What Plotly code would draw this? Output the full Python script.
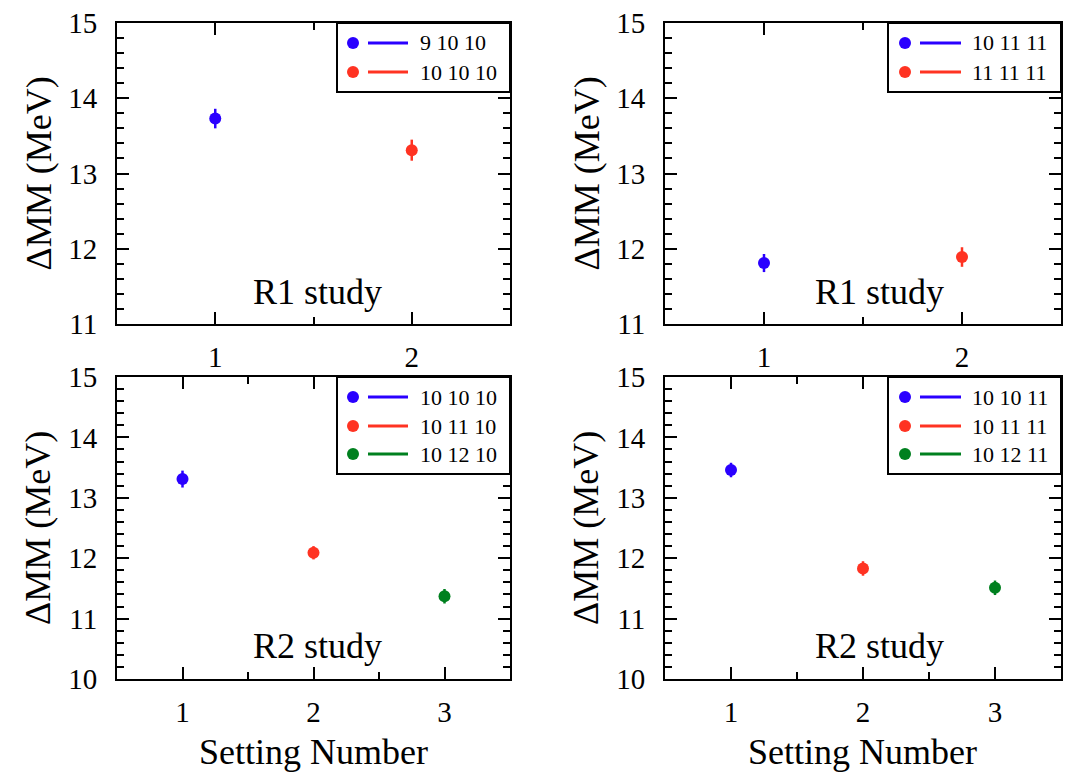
import plotly.graph_objects as go

W, H = 1076, 779
FONT = "Liberation Serif"

BLUE = "#2a00ff"
RED = "#ff3322"
GREEN = "#00801f"

# R1 study (top row)
r1a_setting = [1, 2]
r1a_labels = ["9 10 10", "10 10 10"]
r1a_mm = [13.73, 13.31]
r1a_err = [0.13, 0.14]

r1b_setting = [1, 2]
r1b_labels = ["10 11 11", "11 11 11"]
r1b_mm = [11.81, 11.89]
r1b_err = [0.12, 0.13]

# R2 study (bottom row)
r2a_setting = [1, 2, 3]
r2a_labels = ["10 10 10", "10 11 10", "10 12 10"]
r2a_mm = [13.31, 12.09, 11.37]
r2a_err = [0.14, 0.11, 0.12]

r2b_setting = [1, 2, 3]
r2b_labels = ["10 10 11", "10 11 11", "10 12 11"]
r2b_mm = [13.46, 11.83, 11.51]
r2b_err = [0.12, 0.12, 0.12]

colors = [BLUE, RED, GREEN]


def px(x):
    return x / W


def py(y):
    return 1 - y / H


# panel frames in pixels: (left, right, top, bottom)
panels = [
    dict(frame=(117, 510, 23, 324), xs=r1a_setting, ys=r1a_mm, es=r1a_err, labels=r1a_labels,
         xr=[0.5, 2.5], yr=[11, 15], study="R1 study", study_pos=(317, 292),
         leg=(337, 23, 92), leg_dx=(353, 368, 408, 418), rows=[43, 72]),
    dict(frame=(665, 1061, 23, 324), xs=r1b_setting, ys=r1b_mm, es=r1b_err, labels=r1b_labels,
         xr=[0.5, 2.5], yr=[11, 15], study="R1 study", study_pos=(879, 292),
         leg=(888, 23, 92), leg_dx=(905, 920, 961, 970), rows=[43, 72]),
    dict(frame=(117, 510, 377, 679), xs=r2a_setting, ys=r2a_mm, es=r2a_err, labels=r2a_labels,
         xr=[0.5, 3.5], yr=[10, 15], study="R2 study", study_pos=(317, 646),
         leg=(337, 377, 474), leg_dx=(353, 368, 408, 418), rows=[397, 426, 454]),
    dict(frame=(665, 1061, 377, 679), xs=r2b_setting, ys=r2b_mm, es=r2b_err, labels=r2b_labels,
         xr=[0.5, 3.5], yr=[10, 15], study="R2 study", study_pos=(879, 646),
         leg=(888, 377, 474), leg_dx=(905, 920, 961, 970), rows=[397, 426, 454]),
]

fig = go.Figure()
shapes = []
annotations = []
layout = {}

for i, p in enumerate(panels, start=1):
    sfx = "" if i == 1 else str(i)
    xa, ya = "x" + sfx, "y" + sfx
    l, r, t, b = p["frame"]

    for j, (xv, yv, ev) in enumerate(zip(p["xs"], p["ys"], p["es"])):
        fig.add_trace(go.Scatter(
            x=[xv], y=[yv], mode="markers",
            marker=dict(color=colors[j], size=12, line=dict(width=0)),
            error_y=dict(type="data", array=[ev], color=colors[j], thickness=2.5, width=0),
            xaxis=xa, yaxis=ya, showlegend=False, name=p["labels"][j],
        ))

    axis_common = dict(
        showline=True, linecolor="black", linewidth=2, mirror="allticks",
        ticks="inside", tickcolor="black", tickwidth=2, showgrid=False, zeroline=False,
        automargin=False,
        tickfont=dict(family=FONT, size=29, color="black"),
    )
    layout["xaxis" + sfx] = dict(
        axis_common, domain=[px(l), px(r)], range=p["xr"], anchor=ya,
        tick0=1, dtick=1, ticklen=12, ticklabelstandoff=6,
        minor=dict(dtick=0.5, tick0=0.5, ticks="inside", ticklen=7, tickwidth=2, tickcolor="black"),
    )
    layout["yaxis" + sfx] = dict(
        axis_common, domain=[py(b), py(t)], range=p["yr"], anchor=xa,
        tick0=10, dtick=1, ticklen=12, ticklabelstandoff=12,
        minor=dict(dtick=0.2, ticks="inside", ticklen=7, tickwidth=2, tickcolor="black"),
    )

    # y-axis title
    annotations.append(dict(
        text="ΔMM (MeV)", xref="paper", yref="paper", x=px(l - 79), y=py((t + b) / 2),
        textangle=-90, showarrow=False, xanchor="center", yanchor="middle",
        font=dict(family=FONT, size=36, color="black"),
    ))
    # study label
    sx, sy = p["study_pos"]
    annotations.append(dict(
        text=p["study"], xref="paper", yref="paper", x=px(sx), y=py(sy),
        showarrow=False, xanchor="center", yanchor="middle",
        font=dict(family=FONT, size=36, color="black"),
    ))

    # legend box
    lx, ltop, lbot = p["leg"]
    shapes.append(dict(type="rect", xref="paper", yref="paper",
                       x0=px(lx), x1=px(r), y0=py(lbot), y1=py(ltop),
                       line=dict(color="black", width=2), fillcolor="white"))
    dot_x, line_x0, line_x1, text_x = p["leg_dx"]
    for j, ry in enumerate(p["rows"]):
        rad = 6
        shapes.append(dict(type="circle", xref="paper", yref="paper",
                           x0=px(dot_x - rad), x1=px(dot_x + rad), y0=py(ry + rad), y1=py(ry - rad),
                           line=dict(width=0), fillcolor=colors[j]))
        shapes.append(dict(type="line", xref="paper", yref="paper",
                           x0=px(line_x0), x1=px(line_x1), y0=py(ry), y1=py(ry),
                           line=dict(color=colors[j], width=3)))
        annotations.append(dict(
            text=p["labels"][j], xref="paper", yref="paper", x=px(text_x), y=py(ry),
            showarrow=False, xanchor="left", yanchor="middle",
            font=dict(family=FONT, size=22, color="black"),
        ))

# shared x-axis titles under the bottom row
for l, r in [(117, 510), (665, 1061)]:
    annotations.append(dict(
        text="Setting Number", xref="paper", yref="paper", x=px((l + r) / 2), y=py(752),
        showarrow=False, xanchor="center", yanchor="middle",
        font=dict(family=FONT, size=36, color="black"),
    ))

fig.update_layout(
    width=W, height=H,
    margin=dict(l=0, r=0, t=0, b=0, pad=0, autoexpand=False),
    paper_bgcolor="white", plot_bgcolor="white",
    shapes=shapes, annotations=annotations,
    showlegend=False,
    **layout,
)

fig.write_html("out.html")
